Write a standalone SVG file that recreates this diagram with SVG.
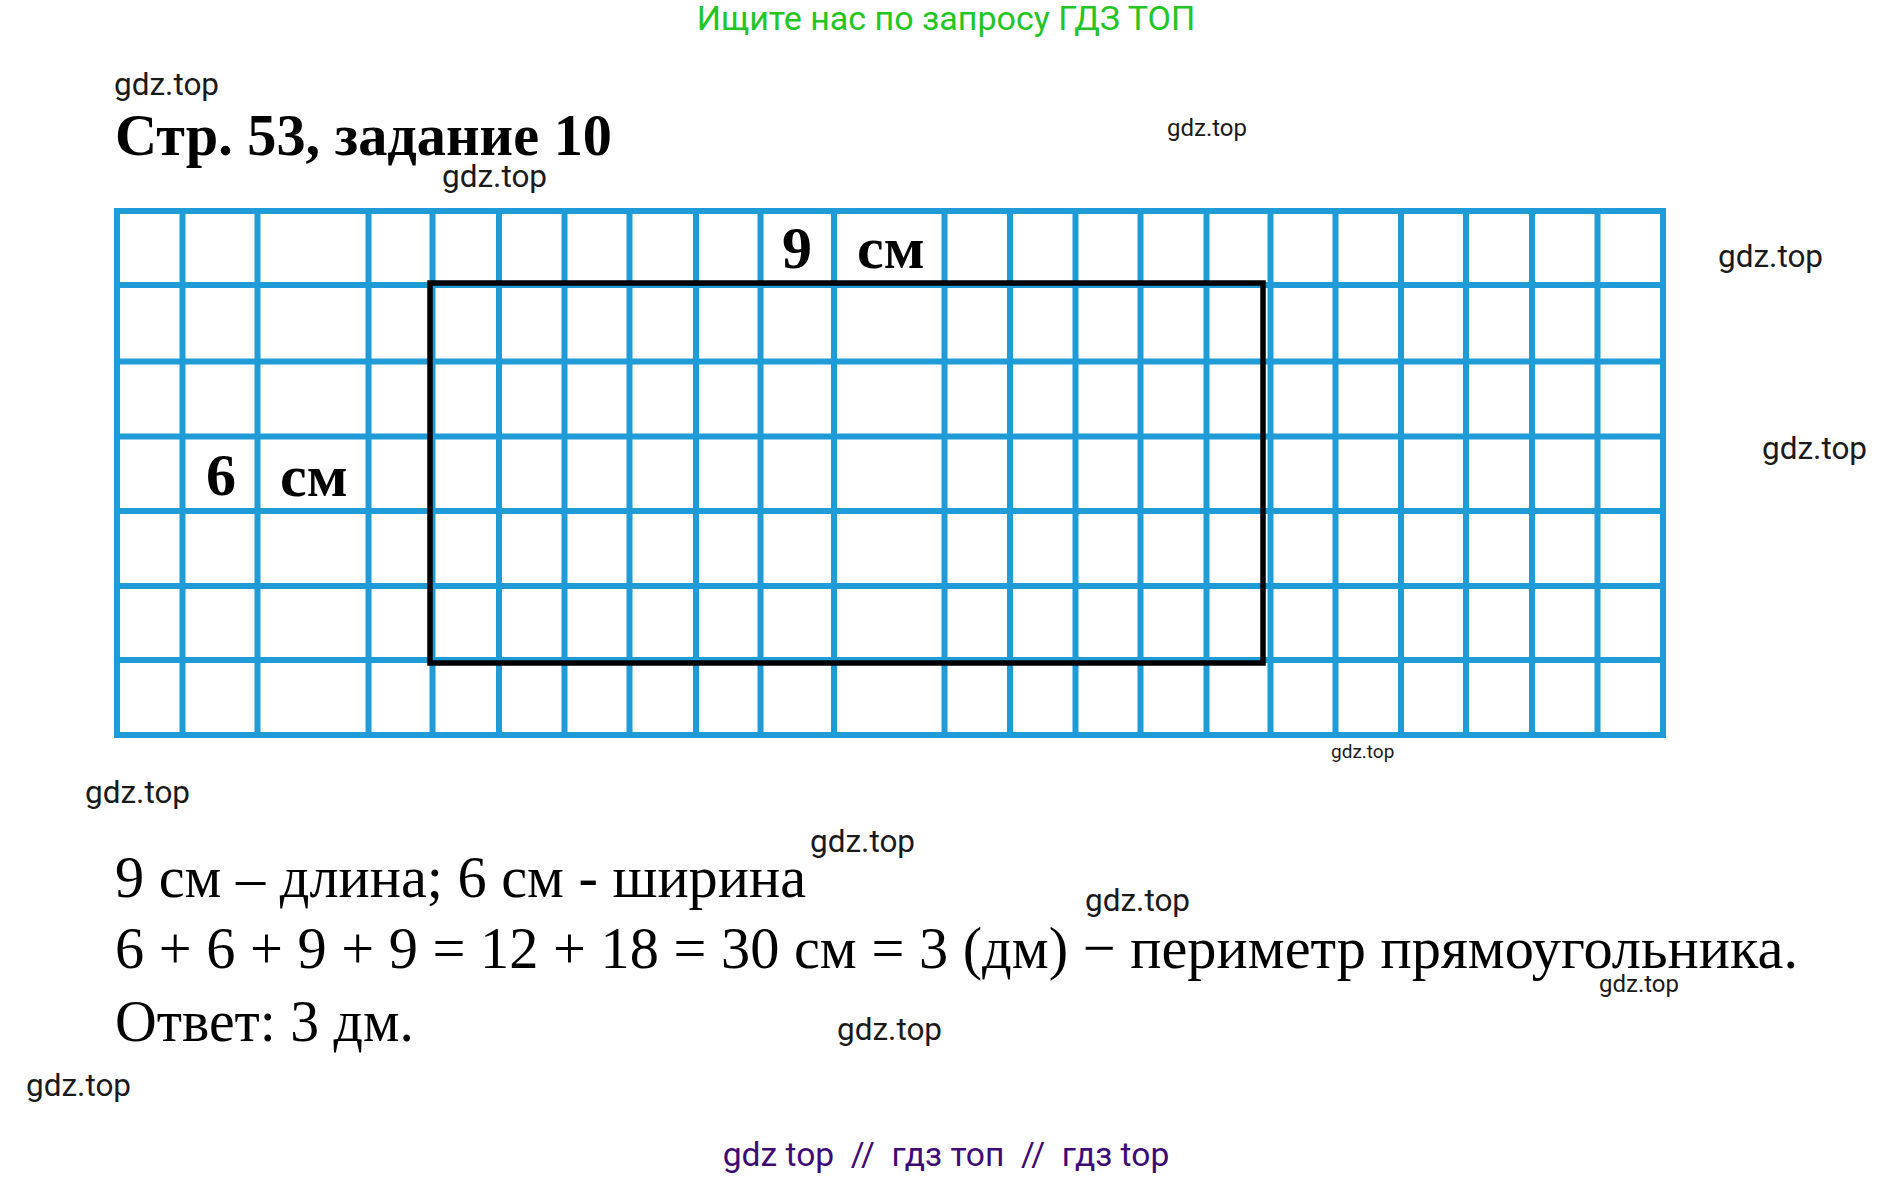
<svg xmlns="http://www.w3.org/2000/svg" width="1895" height="1180" viewBox="0 0 1895 1180">
<style>
.wm{font-family:Roboto,"Liberation Sans",sans-serif;fill:#1a1a1a}
.w30{font-size:31.5px}
.w24{font-size:24px}
.w19{font-size:19px}
.grid line{stroke:#1f9bd7;stroke-width:6;stroke-linecap:square}
.ser{font-family:"Liberation Serif","Times New Roman",serif;fill:#000}
.bold{font-weight:bold}
.body{font-size:60px}
</style>
<rect width="1895" height="1180" fill="#fff"/>
<text x="946" y="30" text-anchor="middle" font-family="Roboto, 'Liberation Sans', sans-serif" font-size="34" fill="#22c522">Ищите нас по запросу ГДЗ ТОП</text>
<text class="ser bold" x="115" y="155" font-size="59" textLength="497" lengthAdjust="spacingAndGlyphs">Стр. 53, задание 10</text>
<g id="grid" class="grid">
<line x1="117" y1="211" x2="1663" y2="211"/>
<line x1="117" y1="285" x2="1663" y2="285"/>
<line x1="117" y1="361.5" x2="1663" y2="361.5"/>
<line x1="117" y1="436.5" x2="1663" y2="436.5"/>
<line x1="117" y1="511" x2="1663" y2="511"/>
<line x1="117" y1="586" x2="1663" y2="586"/>
<line x1="117" y1="660" x2="1663" y2="660"/>
<line x1="117" y1="735" x2="1663" y2="735"/>
<line x1="117" y1="211" x2="117" y2="735"/>
<line x1="182.5" y1="211" x2="182.5" y2="735"/>
<line x1="257.5" y1="211" x2="257.5" y2="735"/>
<line x1="368.5" y1="211" x2="368.5" y2="735"/>
<line x1="432.5" y1="211" x2="432.5" y2="735"/>
<line x1="499" y1="211" x2="499" y2="735"/>
<line x1="564.5" y1="211" x2="564.5" y2="735"/>
<line x1="629.5" y1="211" x2="629.5" y2="735"/>
<line x1="696" y1="211" x2="696" y2="735"/>
<line x1="760.5" y1="211" x2="760.5" y2="735"/>
<line x1="834" y1="211" x2="834" y2="735"/>
<line x1="944.5" y1="211" x2="944.5" y2="735"/>
<line x1="1010" y1="211" x2="1010" y2="735"/>
<line x1="1075.5" y1="211" x2="1075.5" y2="735"/>
<line x1="1140.5" y1="211" x2="1140.5" y2="735"/>
<line x1="1206.5" y1="211" x2="1206.5" y2="735"/>
<line x1="1270.5" y1="211" x2="1270.5" y2="735"/>
<line x1="1335.5" y1="211" x2="1335.5" y2="735"/>
<line x1="1401" y1="211" x2="1401" y2="735"/>
<line x1="1466" y1="211" x2="1466" y2="735"/>
<line x1="1532" y1="211" x2="1532" y2="735"/>
<line x1="1597.5" y1="211" x2="1597.5" y2="735"/>
<line x1="1663" y1="211" x2="1663" y2="735"/>
</g>
<g id="rectangle">
<rect x="430" y="283" width="833" height="380" fill="none" stroke="#000" stroke-width="5.5"/>
</g>
<g id="labels">
<text class="ser bold" x="782" y="268" font-size="60">9</text>
<text class="ser bold" x="857" y="268" font-size="60">см</text>
<text class="ser bold" x="206" y="495" font-size="60">6</text>
<text class="ser bold" x="280" y="496" font-size="60">см</text>
</g>
<g id="solution">
<text class="ser body" x="115" y="897" textLength="691" lengthAdjust="spacingAndGlyphs">9 см – длина; 6 см - ширина</text>
<text class="ser body" x="115" y="968" textLength="1683" lengthAdjust="spacingAndGlyphs">6 + 6 + 9 + 9 = 12 + 18 = 30 см = 3 (дм) − периметр прямоугольника.</text>
<text class="ser body" x="115" y="1041" textLength="299" lengthAdjust="spacingAndGlyphs">Ответ: 3 дм.</text>
</g>
<g id="watermarks">
<text class="wm w30" x="114" y="95">gdz.top</text>
<text class="wm w24" x="1167" y="136">gdz.top</text>
<text class="wm w30" x="442" y="187">gdz.top</text>
<text class="wm w30" x="1718" y="267">gdz.top</text>
<text class="wm w30" x="1762" y="459">gdz.top</text>
<text class="wm w19" x="1331" y="758">gdz.top</text>
<text class="wm w30" x="85" y="803">gdz.top</text>
<text class="wm w30" x="810" y="852">gdz.top</text>
<text class="wm w30" x="1085" y="911">gdz.top</text>
<text class="wm w24" x="1599" y="992">gdz.top</text>
<text class="wm w30" x="837" y="1040">gdz.top</text>
<text class="wm w30" x="26" y="1096">gdz.top</text>
</g>
<text x="946" y="1166" text-anchor="middle" font-family="Roboto, 'Liberation Sans', sans-serif" font-size="33.6" fill="#3d0a78" xml:space="preserve">gdz top  //  гдз топ  //  гдз top</text>
</svg>
